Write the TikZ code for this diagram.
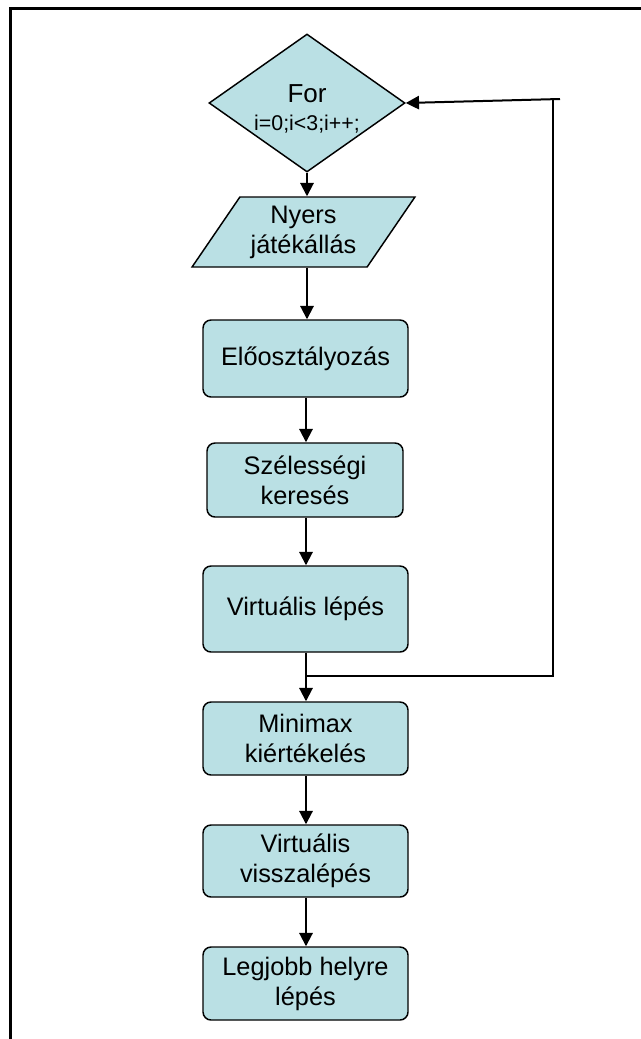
\documentclass[tikz,border=0pt]{standalone}
\usepackage{fontspec}
\setmainfont{Liberation Sans}
\usetikzlibrary{shapes.geometric,arrows.meta}
\definecolor{boxfill}{RGB}{186,224,228}
\begin{document}
\begin{tikzpicture}[x=0.75pt,y=-0.75pt,
  every node/.style={font=\fontsize{19}{22.5}\selectfont, align=center},
  procbox/.style={draw, line width=1.1pt, fill=boxfill, rounded corners=6pt,
    minimum width=153.75pt, inner sep=0pt},
  decision/.style={draw, line width=1.1pt, fill=boxfill, diamond, inner sep=0pt,
    minimum width=147pt, minimum height=103.5pt},
  iobox/.style={draw, line width=1.1pt, fill=boxfill, trapezium,
    trapezium left angle=53, trapezium right angle=127, trapezium stretches=true,
    minimum width=167.25pt, minimum height=52.5pt, inner sep=0pt},
  flow/.style={line width=1.5pt, -{Triangle[length=10pt,width=10pt]}},
  loopline/.style={line width=1.5pt}
]
\useasboundingbox (0,0) rectangle (641,1039);
\fill[white] (0,0) rectangle (641,1039);
% frame
\draw[line width=2.25pt] (10,1045) -- (10,8) -- (647,8);

% loop header
\node[decision] (for) at (307,103) {};
\node[anchor=base, font=\fontsize{19.5}{22}\selectfont] (fortext) at (307,102) {For};
\node[anchor=base, font=\fontsize{16}{19}\selectfont] (forcond) at (307,130) {i=0;i<3;i++;};

% input
\node[iobox] (para) at (303.5,232) {Nyers\\játékállás};

% process steps
\node[procbox, minimum height=57.75pt] (pre) at (305.5,358.5) {Előosztályozás};
\node[procbox, minimum width=147pt, minimum height=55.5pt] (szel) at (305,480) {Szélességi\\keresés};
\node[procbox, minimum height=64.5pt] (virt) at (305.5,609) {Virtuális lépés};
\node[procbox, minimum height=54.75pt] (mini) at (305.5,738.5) {Minimax\\kiértékelés};
\node[procbox, minimum height=54pt] (vissza) at (305.5,861) {Virtuális\\visszalépés};
\node[procbox, minimum height=54.75pt] (best) at (305.5,983.5) {Legjobb helyre\\lépés};

% main flow
\draw[flow] (for.south) -- (for.south |- para.north);
\draw[flow] (para.south -| for.south) -- (for.south |- pre.north);
\draw[flow] (pre.south -| 306,0) -- (306,0 |- szel.north);
\draw[flow] (szel.south -| 306,0) -- (306,0 |- virt.north);
\draw[flow] (virt.south -| 306,0) -- (306,0 |- mini.north);
\draw[flow] (mini.south -| 306,0) -- (306,0 |- vissza.north);
\draw[flow] (vissza.south -| 306,0) -- (306,0 |- best.north);

% loop back
\coordinate (ja) at (306,676);
\coordinate (jb) at (553,676);
\coordinate (jc) at (553,99);
\coordinate (jd) at (560,99);
\draw[loopline] (ja) -- (jb) -- (jc);
\draw[flow] (jd) -- (for.east);
\end{tikzpicture}
\end{document}
